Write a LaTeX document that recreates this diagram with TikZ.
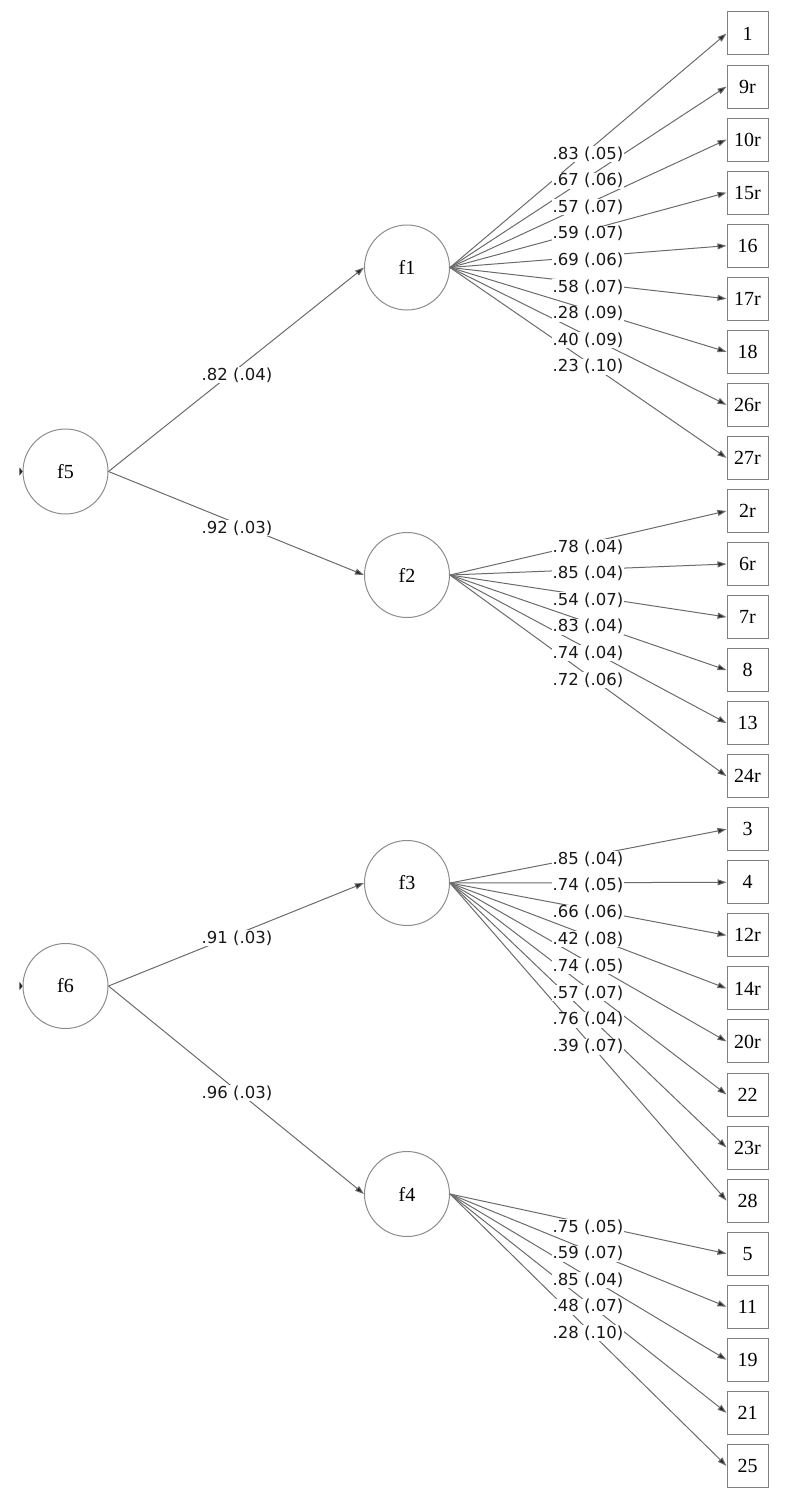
\documentclass[tikz,border=0pt]{standalone}
\usepackage{fontspec}
\setmainfont{Liberation Serif}
\newfontfamily\lblfont{DejaVu Sans}
\usetikzlibrary{arrows.meta}
\begin{document}
\begin{tikzpicture}[x=1pt,y=-1pt,
  latent/.style={circle,draw=black!45,line width=1pt,minimum size=85pt,inner sep=0pt,text=black,font=\fontsize{20}{20}\selectfont},
  obs/.style={rectangle,draw=black!50,line width=1pt,minimum width=41pt,minimum height=43pt,inner sep=0pt,text=black,font=\fontsize{20}{20}\selectfont},
  pathln/.style={draw=black!58,line width=1pt,-{Triangle[length=9pt,width=6pt,fill=black!85]}},
  coef/.style={fill=white,inner sep=0.6pt,text=black!90,font=\lblfont\fontsize{16.5}{16.5}\selectfont}]
\useasboundingbox (0,0) rectangle (800,1496);

% latent factors
\node[latent] (f5) at (65.5,471.5) {f5};
\node[latent] (f6) at (65.5,986) {f6};
\node[latent] (f1) at (407,267.5) {f1};
\node[latent] (f2) at (407,575) {f2};
\node[latent] (f3) at (407,883) {f3};
\node[latent] (f4) at (407,1194) {f4};

% observed items
\foreach \n/\t [count=\i from 0] in {b1/1,b9r/9r,b10r/10r,b15r/15r,b16/16,b17r/17r,b18/18,b26r/26r,b27r/27r,b2r/2r,b6r/6r,b7r/7r,b8/8,b13/13,b24r/24r,b3/3,b4/4,b12r/12r,b14r/14r,b20r/20r,b22/22,b23r/23r,b28/28,b5/5,b11/11,b19/19,b21/21,b25/25}
  \node[obs] (\n) at ({747.5},{33.5+\i*53.05}) {\t};

% incoming ticks on f5 and f6
\coordinate (in5) at (20,471.5);
\coordinate (in6) at (20,986);
\draw[black!85,line width=0.3pt,-{Triangle[length=3pt,width=8pt]}] (in5) -- (f5.west);
\draw[black!85,line width=0.3pt,-{Triangle[length=3pt,width=8pt]}] (in6) -- (f6.west);

% second-order paths
\draw[pathln] (f5.east) -- (f1.west);
\draw[pathln] (f5.east) -- (f2.west);
\draw[pathln] (f6.east) -- (f3.west);
\draw[pathln] (f6.east) -- (f4.west);

% first-order paths
\foreach \n in {b1,b9r,b10r,b15r,b16,b17r,b18,b26r,b27r} \draw[pathln] (f1.east) -- (\n.west);
\foreach \n in {b2r,b6r,b7r,b8,b13,b24r} \draw[pathln] (f2.east) -- (\n.west);
\foreach \n in {b3,b4,b12r,b14r,b20r,b22,b23r,b28} \draw[pathln] (f3.east) -- (\n.west);
\foreach \n in {b5,b11,b19,b21,b25} \draw[pathln] (f4.east) -- (\n.west);

% coefficient labels
\node[coef] (l51) at (237,375) {.82 (.04)};
\node[coef] (l52) at (237,528) {.92 (.03)};
\node[coef] (l63) at (237,938) {.91 (.03)};
\node[coef] (l64) at (237,1093) {.96 (.03)};

\foreach \l [count=\k from 0] in {.83 (.05),.67 (.06),.57 (.07),.59 (.07),.69 (.06),.58 (.07),.28 (.09),.40 (.09),.23 (.10)}
  \node[coef] (la\k) at (588,{154+\k*26.6}) {\l};
\foreach \l [count=\k from 0] in {.78 (.04),.85 (.04),.54 (.07),.83 (.04),.74 (.04),.72 (.06)}
  \node[coef] (lb\k) at (588,{547+\k*26.6}) {\l};
\foreach \l [count=\k from 0] in {.85 (.04),.74 (.05),.66 (.06),.42 (.08),.74 (.05),.57 (.07),.76 (.04),.39 (.07)}
  \node[coef] (lc\k) at (588,{859+\k*26.8}) {\l};
\foreach \l [count=\k from 0] in {.75 (.05),.59 (.07),.85 (.04),.48 (.07),.28 (.10)}
  \node[coef] (ld\k) at (588,{1227+\k*26.6}) {\l};
\end{tikzpicture}
\end{document}
